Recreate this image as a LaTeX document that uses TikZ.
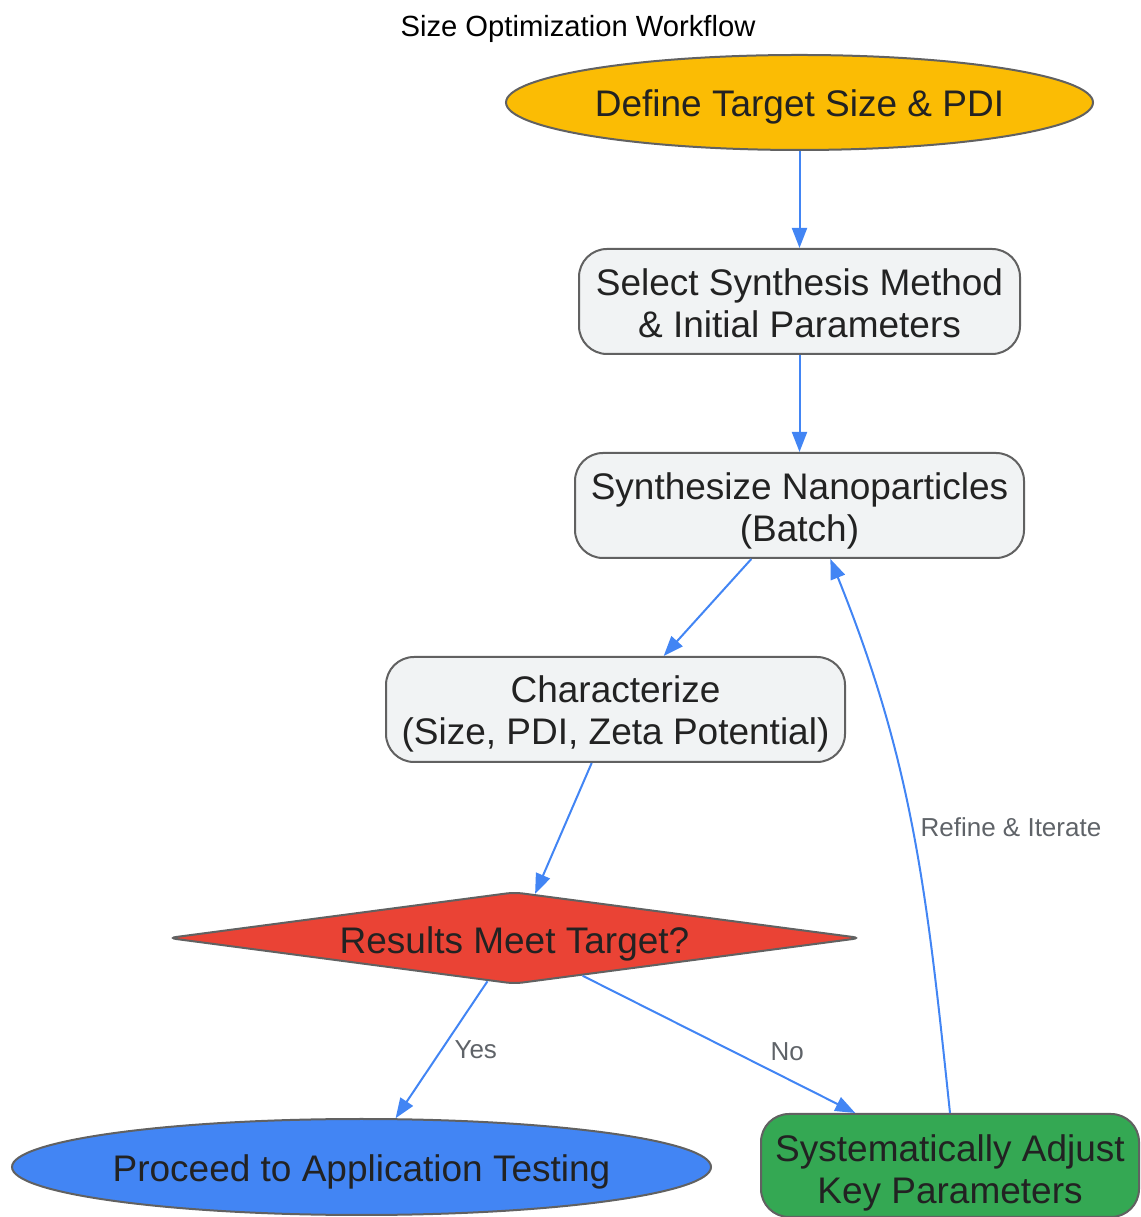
\documentclass[tikz,border=0pt]{standalone}
\usepackage{fontspec}
\setmainfont{Liberation Sans}
\usetikzlibrary{shapes.geometric,arrows.meta}
\definecolor{edgeblue}{HTML}{4285F4}
\definecolor{bordergray}{HTML}{616161}
\definecolor{txtdark}{HTML}{222222}
\definecolor{lblgray}{HTML}{5F6368}
\definecolor{startyellow}{HTML}{FBBC04}
\definecolor{boxgray}{HTML}{F1F3F4}
\definecolor{nodered}{HTML}{EA4335}
\definecolor{endblue}{HTML}{4285F4}
\definecolor{adjgreen}{HTML}{34A853}
% text sits a little below the middle of each shape
\newcommand{\lowtxt}[2][5pt]{\raisebox{-#1}[\height][\depth]{#2}}
\begin{document}
\begin{tikzpicture}[x=1pt,y=1pt,
	base/.style={draw=bordergray,line width=2pt,text=txtdark,align=center,inner sep=0pt,
		font=\fontsize{37}{42}\selectfont},
	oval/.style={base,ellipse,inner xsep=-20pt},
	stepbox/.style={base,rounded corners=28pt,minimum height=105pt},
	decide/.style={base,diamond,rounded corners=8pt},
	flow/.style={-{Triangle[length=20pt,width=15pt]},edgeblue,line width=2pt},
	lbl/.style={text=lblgray,font=\fontsize{26}{30}\selectfont,inner sep=0pt}]
\useasboundingbox (0,0) rectangle (1140,1217);
\node[font=\fontsize{29.2}{34}\selectfont] (title) at (578,1188) {Size Optimization Workflow};
\node[oval,fill=startyellow,minimum width=587pt,minimum height=95pt] (define) at (799.5,1114.5) {\lowtxt[4pt]{Define Target Size \& PDI}};
\node[stepbox,fill=boxgray,minimum width=441pt] (select) at (799.5,915.5) {\lowtxt[2pt]{Select Synthesis Method}\\\lowtxt[2pt]{\& Initial Parameters}};
\node[stepbox,fill=boxgray,minimum width=449pt] (synth) at (799.5,711.5) {\lowtxt{Synthesize Nanoparticles}\\\lowtxt{(Batch)}};
\node[stepbox,fill=boxgray,minimum width=459pt] (charac) at (615.5,507.5) {\lowtxt[4pt]{Characterize}\\\lowtxt[4pt]{(Size, PDI, Zeta Potential)}};
\node[decide,fill=nodered,minimum width=693pt,minimum height=92pt,aspect=7.5] (check) at (514.5,279) {\lowtxt[6pt]{Results Meet Target?}};
\node[oval,fill=endblue,minimum width=699pt,minimum height=96pt] (proceed) at (361.5,50) {\lowtxt{Proceed to Application Testing}};
\node[stepbox,fill=adjgreen,minimum width=378pt,minimum height=103pt] (adjust) at (950,51.5) {\lowtxt[7pt]{Systematically Adjust}\\\lowtxt[7pt]{Key Parameters}};

\draw[flow] (define) -- (select);
\draw[flow] (select) -- (synth);
\draw[flow] (synth.-132) -- (charac.48);
\draw[flow] (charac.-114) -- (check.65);
\draw[flow] (check.-122) -- node[lbl,pos=.5,right=12pt] {Yes} (proceed.55);
\draw[flow] (check.-29) -- node[lbl,pos=.75,above=17pt] {No} (adjust.151.6);
\draw[flow] (adjust.north) to[out=96,in=-68] node[lbl,pos=.5,right=7pt,yshift=3pt] {Refine \& Iterate} (synth.-60);
\end{tikzpicture}
\end{document}
